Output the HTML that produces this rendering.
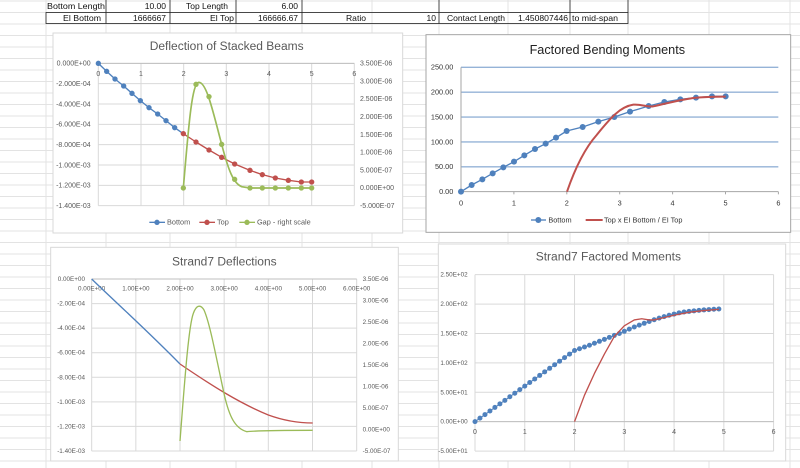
<!DOCTYPE html>
<html><head><meta charset="utf-8"><style>
html,body{margin:0;padding:0;background:#fff;}
svg{display:block;font-family:"Liberation Sans",sans-serif;}
</style></head><body>
<svg id="s" width="800" height="468" viewBox="0 0 800 468"></svg>
<script>
let o='';
const cols=[46,106,170,236,302,372,439,508,570,628,709,790];
for(let y=1;y<468;y+=11.5)o+=`<line x1="0" y1="${y}" x2="800" y2="${y}" stroke="#e3e3e3" stroke-width="1"/>`;
cols.forEach(x=>o+=`<line x1="${x}" y1="0" x2="${x}" y2="468" stroke="#e3e3e3" stroke-width="1"/>`);
o+=`<g stroke="#222" stroke-width="0.8" fill="none"><rect x="46" y="12.5" width="582" height="11"/>`;
[106,170,236,302,439,570].forEach(x=>o+=`<line x1="${x}" y1="0" x2="${x}" y2="23.5"/>`);
o+=`<line x1="628" y1="0" x2="628" y2="12.5"/></g>`;
const T=(x,y,t,a,fs,w)=>`<text x="${x}" y="${y}" font-size="${fs||8.5}" fill="#111" text-anchor="${a||'start'}"${w?` textLength="${w}" lengthAdjust="spacingAndGlyphs"`:''}>${t}</text>`;
o+=T(47,9,'Bottom Length','start',8.5,58)+T(166,9,'10.00','end')+T(228,9,'Top Length','end',8.5,42)+T(298,9,'6.00','end');
o+=T(63,21,'El Bottom','start',8.5,38)+T(166,21,'1666667','end',8.5,33)+T(234,21,'El Top','end',8.5,24)+T(298,21,'166666.67','end',8.5,40)+T(346,21,'Ratio','start',8.5,20)+T(436,21,'10','end')+T(447,21,'Contact Length','start',8.5,58)+T(568,21,'1.450807446','end',8.5,50)+T(572,21,'to mid-span','start',8.5,46);

const B='#4f81bd',R='#c0504d',G='#9bbb59',GR='#d9d9d9',TX='#595959';
const g=(ox,oy,b)=>`<g transform="translate(${ox},${oy}) scale(0.333333)">${b}</g>`;
const L=(x1,y1,x2,y2,c,w)=>`<line x1="${x1}" y1="${y1}" x2="${x2}" y2="${y2}" stroke="${c}" stroke-width="${w||3}"/>`;
const tx=(x,y,t,a,fs,c)=>`<text x="${x}" y="${y}" font-size="${fs}" fill="${c||TX}" text-anchor="${a}">${t}</text>`;
const pl=(pts,c,w)=>`<polyline points="${pts.map(p=>p.join(',')).join(' ')}" fill="none" stroke="${c}" stroke-width="${w}" stroke-linejoin="round"/>`;
const mk=(pts,c,r)=>pts.map(p=>`<circle cx="${p[0]}" cy="${p[1]}" r="${r}" fill="${c}"/>`).join('');

{let b=`<rect x="9" y="9" width="1049" height="600" fill="#fff" stroke="${GR}" stroke-width="3"/>`;
b+=tx(530,60,'Deflection of Stacked Beams','middle',36);
const ll=['0.000E+00','-2.000E-04','-4.000E-04','-6.000E-04','-8.000E-04','-1.000E-03','-1.200E-03','-1.400E-03'];
const rl=['3.500E-06','3.000E-06','2.500E-06','2.000E-06','1.500E-06','1.000E-06','5.000E-07','0.000E+00','-5.000E-07'];
for(let i=0;i<8;i++){let y=100+i*61;b+=L(145,y,913,y,GR);b+=tx(122,y+7,ll[i],'end',21);}
for(let i=0;i<9;i++){let y=100+i*(427/8);b+=tx(930,y+7,rl[i],'start',21);}
for(let j=0;j<=6;j++){let x=145+j*128;b+=L(x,100,x,527,GR);b+=tx(x,138,j,'middle',21);}
b+=L(145,100,913,100,'#bfbfbf');
const bp=[[145,100],[170,124],[195,147],[221,168],[246,190],[271,212],[297,233],[323,252],[348,272],[374,293],[400,311]];
const tp=[[400,311],[438,336],[477,360],[515,382],[554,402],[600,421],[637,434],[676,444],[715,451],[754,456],[785,456]];
const gp=[[400,474],[438,163],[477,200],[515,343],[554,448],[600,474],[637,474],[676,474],[715,474],[754,474],[785,474]];
b+=pl(bp,B,4)+pl(tp,R,4);
b+=`<path d="M400,474 C415,300 425,160 446,157 C470,155 490,250 515,343 C535,420 550,460 575,470 L600,474 L785,474" fill="none" stroke="${G}" stroke-width="5"/>`;
b+=mk(bp.slice(0,10),B,8)+mk(tp,R,8)+mk(gp,G,8);
b+=L(298,577,345,577,B,4)+mk([[321,577]],B,8)+tx(351,584,'Bottom','start',22);
b+=L(448,577,495,577,R,4)+mk([[471,577]],R,8)+tx(501,584,'Top','start',22);
b+=L(568,577,615,577,G,4)+mk([[591,577]],G,8)+tx(621,584,'Gap - right scale','start',22);
o+=g(50,30,b);}

{let b=`<rect x="18" y="14" width="1094" height="593" fill="#fff" stroke="#a6a6a6" stroke-width="3"/>`;
b+=tx(562,72,'Factored Bending Moments','middle',38,'#222');
const yl=['0.00','50.00','100.00','150.00','200.00','250.00'];
for(let i=0;i<6;i++){let y=485-i*74.6;if(i>0)b+=L(123,y,1075,y,'#95b3d7',4);b+=tx(100,y+7,yl[i],'end',22,'#333');}
b+=L(123,112,123,485,'#a6a6a6')+L(123,485,1075,485,'#a6a6a6');
for(let j=0;j<=6;j++){let x=123+j*158.7;b+=L(x,485,x,493,'#a6a6a6');b+=tx(x,527,j,'middle',22,'#333');}
const xs=[123,155,187,218,250,282,313,345,377,408,440,488,535,583,630,686,733,781,828,876,917];
const ys=[485,465,448,430,412,395,376,357,341,323,303,291,275,261,245,228,216,208,203,199,199];
const bp=xs.map((x,i)=>[x,ys[i]]);
b+=pl(bp,B,4)+mk(bp,B,9);
b+=`<path d="M441,485 C460,430 490,360 530,315 C570,265 600,230 640,224 C665,222 680,232 700,229 C740,220 780,210 820,204 C860,200 890,200 917,200" fill="none" stroke="${R}" stroke-width="6"/>`;
b+=L(333,570,378,570,B,4)+mk([[355,570]],B,9)+tx(385,577,'Bottom','start',22,'#333');
b+=L(497,570,548,570,R,6)+tx(552,577,'Top x EI Bottom / EI Top','start',22,'#333');
o+=g(420,30,b);}

{let b=`<rect x="32" y="22" width="1043" height="641" fill="#fff" stroke="${GR}" stroke-width="3"/>`;
b+=tx(553,76,'Strand7 Deflections','middle',36);
const ll=['0.00E+00','-2.00E-04','-4.00E-04','-6.00E-04','-8.00E-04','-1.00E-03','-1.20E-03','-1.40E-03'];
const rl=['3.50E-06','3.00E-06','2.50E-06','2.00E-06','1.50E-06','1.00E-06','5.00E-07','0.00E+00','-5.00E-07'];
for(let i=0;i<8;i++){let y=117+i*73.7;b+=L(155,y,950,y,GR);b+=tx(135,y+6,ll[i],'end',19);}
for(let i=0;i<9;i++){let y=117+i*64.5;b+=tx(968,y+6,rl[i],'start',19);}
for(let j=0;j<=6;j++){let x=155+j*132.5;b+=L(x,117,x,633,GR);b+=tx(x,152,j+'.00E+00','middle',19);}
b+=L(155,117,950,117,'#bfbfbf');
b+=`<path d="M155,117 C220,180 320,270 420,372" fill="none" stroke="${B}" stroke-width="4"/>`;
b+=`<path d="M420,372 C520,440 600,490 685,525 C740,545 790,549 818,549" fill="none" stroke="${R}" stroke-width="4"/>`;
b+=`<path d="M420,603 C432,450 445,260 460,220 C468,198 480,190 492,210 C510,250 530,360 553,465 C568,530 585,565 620,575 C650,572 700,571 818,571" fill="none" stroke="${G}" stroke-width="4"/>`;
o+=g(40,240,b);}

{let b=`<rect x="40" y="12" width="1042" height="651" fill="#fff" stroke="${GR}" stroke-width="3"/>`;
b+=tx(550,62,'Strand7 Factored Moments','middle',36);
const yl=['2.50E+02','2.00E+02','1.50E+02','1.00E+02','5.00E+01','0.00E+00','-5.00E+01'];
for(let i=0;i<7;i++){let y=104+i*88.2;b+=L(150,y,1046,y,GR);b+=tx(128,y+6,yl[i],'end',19);}
for(let j=0;j<=6;j++){let x=150+j*149.3;b+=L(x,104,x,633,GR);b+=tx(x,582,j,'middle',21);}
b+=L(150,545,1046,545,'#bfbfbf');
const tb=[[2,121],[2.3,130],[2.6,140],[2.9,150],[3.2,161],[3.55,172],[3.85,180],[4.15,186],[4.45,189],[4.75,191],[5,192]];
const M=x=>{if(x<=2)return 60.5*x;for(let i=0;i<tb.length-1;i++){if(x<=tb[i+1][0]){let t=(x-tb[i][0])/(tb[i+1][0]-tb[i][0]);return tb[i][1]+t*(tb[i+1][1]-tb[i][1]);}}return 192;};
const X=x=>150+x*149.3,Y=v=>545-v*1.764;
let pts=[];for(let k=0;k<50;k++){let x=k*0.1;pts.push([X(x).toFixed(1),Y(M(x)).toFixed(1)]);}
b+=pl(pts,B,3)+mk(pts,B,7.5);
const rp=[[2,0],[2.2,45],[2.4,82],[2.6,115],[2.8,145],[3.0,163],[3.2,173],[3.35,175],[3.5,173],[3.6,173],[3.8,177],[4.0,181],[4.3,186],[4.6,189],[4.9,191]];
b+=`<path d="M${rp.map(p=>X(p[0]).toFixed(1)+','+Y(p[1]).toFixed(1)).join(' L')}" fill="none" stroke="${R}" stroke-width="4" stroke-linejoin="round"/>`;
o+=g(425,240,b);}
document.getElementById('s').innerHTML=o;
</script>
</body></html>
